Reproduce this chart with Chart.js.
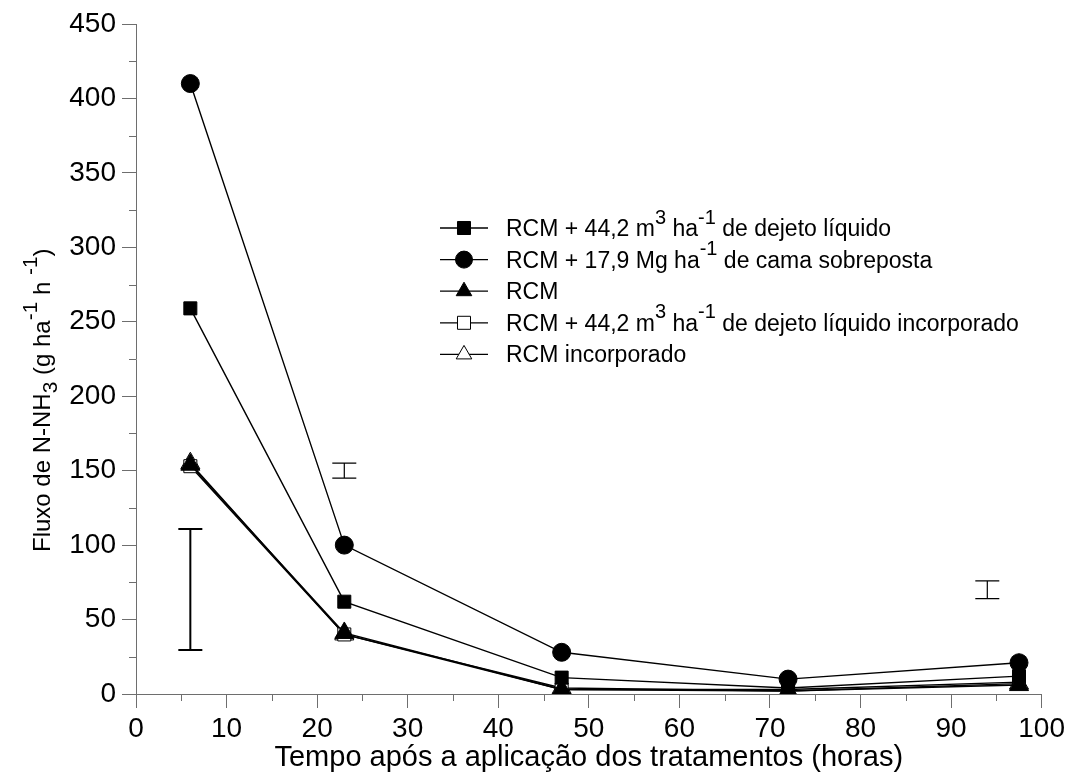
<!DOCTYPE html>
<html>
<head>
<meta charset="utf-8">
<script src="https://cdn.jsdelivr.net/npm/chart.js@4"></script>
<style>
  body { margin: 0; background: #fff; }
  #wrap { width: 1069px; height: 774px; position: relative; }
</style>
</head>
<body>
<div id="wrap"><canvas id="fluxoChart"></canvas></div>
<script>
// Dados
const horas = [6, 23, 47, 72, 97.5];
const dejetoLiquido = [259, 62, 11, 4, 12];
const camaSobreposta = [410, 100, 28, 10, 21];
const rcmSolo = [154, 41, 3, 2, 6];
const dejetoIncorporado = [153, 40, 3, 3, 8];
const rcmIncorporado = [155, 40, 4, 2, 7];

// Barras de DMS (x, limite inferior, limite superior)
const dmsX = [6, 23, 94];
const dmsInferior = [29.5, 145, 64];
const dmsSuperior = [110.8, 155, 76];

// Eixos
const xMin = 0, xMax = 100, xPasso = 10;
const yMin = 0, yMax = 450, yPasso = 50;

// Textos (segmentos: [texto, tipo])
const legendaTextos = [
    [['RCM + 44,2 m'], ['3', 'sup'], [' ha'], ['-1', 'sup'], [' de dejeto líquido']],
    [['RCM + 17,9 Mg ha'], ['-1', 'sup'], [' de cama sobreposta']],
    [['RCM']],
    [['RCM + 44,2 m'], ['3', 'sup'], [' ha'], ['-1', 'sup'], [' de dejeto líquido incorporado']],
    [['RCM incorporado']]
];
const tituloY = [['Fluxo de N-NH'], ['3', 'sub'], [' (g ha'], ['-1', 'sup'], [' h '], ['-1', 'sup'], [')']];
const tituloX = 'Tempo após a aplicação dos tratamentos (horas)';

const FONTE = '"Liberation Sans", Arial, sans-serif';
const CINZA = '#6e6e6e';

function pares(ys) {
    return horas.map((h, i) => ({ x: h, y: ys[i] }));
}

function desenhaTextoRico(ctx, segs, x, y, size) {
    let cx = x;
    segs.forEach(([t, tipo]) => {
        let fs = size, dy = 0;
        if (tipo === 'sup') { fs = size * 0.87; dy = -size * 0.54; }
        if (tipo === 'sub') { fs = size * 0.87; dy = size * 0.3; }
        ctx.font = fs + 'px ' + FONTE;
        ctx.fillText(t, cx, y + dy);
        cx += ctx.measureText(t).width;
    });
}

function desenhaMarcador(ctx, estilo, x, y, r, cheio) {
    ctx.beginPath();
    if (estilo === 'circle') {
        ctx.arc(x, y, r, 0, Math.PI * 2);
    } else if (estilo === 'rect') {
        const s = r * Math.SQRT1_2;
        ctx.rect(x - s, y - s, 2 * s, 2 * s);
    } else {
        const a = Math.PI * 2 / 3;
        ctx.moveTo(x, y - r);
        ctx.lineTo(x + Math.sin(a) * r, y - Math.cos(a) * r);
        ctx.lineTo(x - Math.sin(a) * r, y - Math.cos(a) * r);
        ctx.closePath();
    }
    ctx.fillStyle = cheio ? '#000' : '#fff';
    ctx.fill();
    ctx.lineWidth = 1;
    ctx.strokeStyle = '#000';
    ctx.stroke();
}

const extras = {
    id: 'extras',
    afterDraw(chart) {
        const ctx = chart.ctx;
        const sx = chart.scales.x, sy = chart.scales.y;
        ctx.save();

        // ticks menores
        ctx.strokeStyle = CINZA;
        ctx.lineWidth = 1;
        ctx.beginPath();
        for (let v = xMin + xPasso / 2; v < xMax; v += xPasso) {
            const px = Math.round(sx.getPixelForValue(v)) + 0.5;
            ctx.moveTo(px, sy.bottom);
            ctx.lineTo(px, sy.bottom + 7);
        }
        for (let v = yMin + yPasso / 2; v < yMax; v += yPasso) {
            const py = Math.round(sy.getPixelForValue(v)) + 0.5;
            ctx.moveTo(sx.left, py);
            ctx.lineTo(sx.left - 7, py);
        }
        ctx.stroke();

        // barras de DMS
        ctx.strokeStyle = '#000';
        dmsX.forEach((xv, i) => {
            const px = sx.getPixelForValue(xv);
            const p1 = sy.getPixelForValue(dmsInferior[i]);
            const p2 = sy.getPixelForValue(dmsSuperior[i]);
            ctx.lineWidth = i === 0 ? 2 : 1.2;
            ctx.beginPath();
            ctx.moveTo(px, p1); ctx.lineTo(px, p2);
            ctx.moveTo(px - 12, p1); ctx.lineTo(px + 12, p1);
            ctx.moveTo(px - 12, p2); ctx.lineTo(px + 12, p2);
            ctx.stroke();
        });

        // legenda
        ctx.fillStyle = '#000';
        ctx.textBaseline = 'alphabetic';
        ctx.textAlign = 'left';
        chart.data.datasets.forEach((ds, i) => {
            const base = 236 + i * 31.6;
            const cy = base - 8;
            ctx.strokeStyle = '#000';
            ctx.lineWidth = 1.3;
            ctx.beginPath();
            ctx.moveTo(440, cy); ctx.lineTo(488, cy);
            ctx.stroke();
            const r = ds.pointStyle === 'triangle' ? 9 : ds.pointStyle === 'circle' ? 8.5 : 9.2;
            desenhaMarcador(ctx, ds.pointStyle, 464, cy, r, ds.pointBackgroundColor === '#000');
            ctx.fillStyle = '#000';
            desenhaTextoRico(ctx, legendaTextos[i], 506, base, 23);
        });

        // título do eixo x
        ctx.font = '29px ' + FONTE;
        ctx.textAlign = 'center';
        ctx.fillText(tituloX, (sx.left + sx.right) / 2, 766);

        // título do eixo y
        ctx.save();
        ctx.translate(50, 552);
        ctx.rotate(-Math.PI / 2);
        ctx.textAlign = 'left';
        desenhaTextoRico(ctx, tituloY, 0, 0, 24);
        ctx.restore();

        ctx.restore();
    }
};

function serie(label, dados, estilo, raio, cheio) {
    return {
        label: label,
        data: pares(dados),
        pointStyle: estilo,
        pointRadius: raio,
        pointHoverRadius: raio,
        pointBackgroundColor: cheio ? '#000' : '#fff',
        pointBorderColor: '#000',
        pointBorderWidth: 1,
        borderColor: '#000',
        borderWidth: 1.4,
        fill: false,
        tension: 0
    };
}

new Chart(document.getElementById('fluxoChart'), {
    type: 'line',
    data: {
        datasets: [
            serie('RCM + 44,2 m3 ha-1 de dejeto líquido', dejetoLiquido, 'rect', 9.2, true),
            serie('RCM + 17,9 Mg ha-1 de cama sobreposta', camaSobreposta, 'circle', 9, true),
            serie('RCM', rcmSolo, 'triangle', 11, true),
            serie('RCM + 44,2 m3 ha-1 de dejeto líquido incorporado', dejetoIncorporado, 'rect', 9.2, false),
            serie('RCM incorporado', rcmIncorporado, 'triangle', 11, false)
        ]
    },
    options: {
        responsive: true,
        maintainAspectRatio: false,
        animation: false,
        layout: { padding: { top: 24, right: 25, left: 0, bottom: 0 } },
        plugins: { legend: { display: false }, tooltip: { enabled: false } },
        scales: {
            x: {
                type: 'linear',
                min: xMin, max: xMax,
                ticks: { stepSize: xPasso, color: '#000', font: { size: 28, family: FONTE }, padding: 4, maxRotation: 0 },
                grid: { drawOnChartArea: false, tickLength: 14, color: CINZA },
                border: { color: CINZA, width: 1 },
                afterFit(s) { s.height = 80; }
            },
            y: {
                min: yMin, max: yMax,
                ticks: { stepSize: yPasso, color: '#000', font: { size: 28, family: FONTE }, padding: 6 },
                grid: { drawOnChartArea: false, tickLength: 14, color: CINZA },
                border: { color: CINZA, width: 1 },
                afterFit(s) { s.width = 136; }
            }
        }
    },
    plugins: [extras]
});
</script>
</body>
</html>
